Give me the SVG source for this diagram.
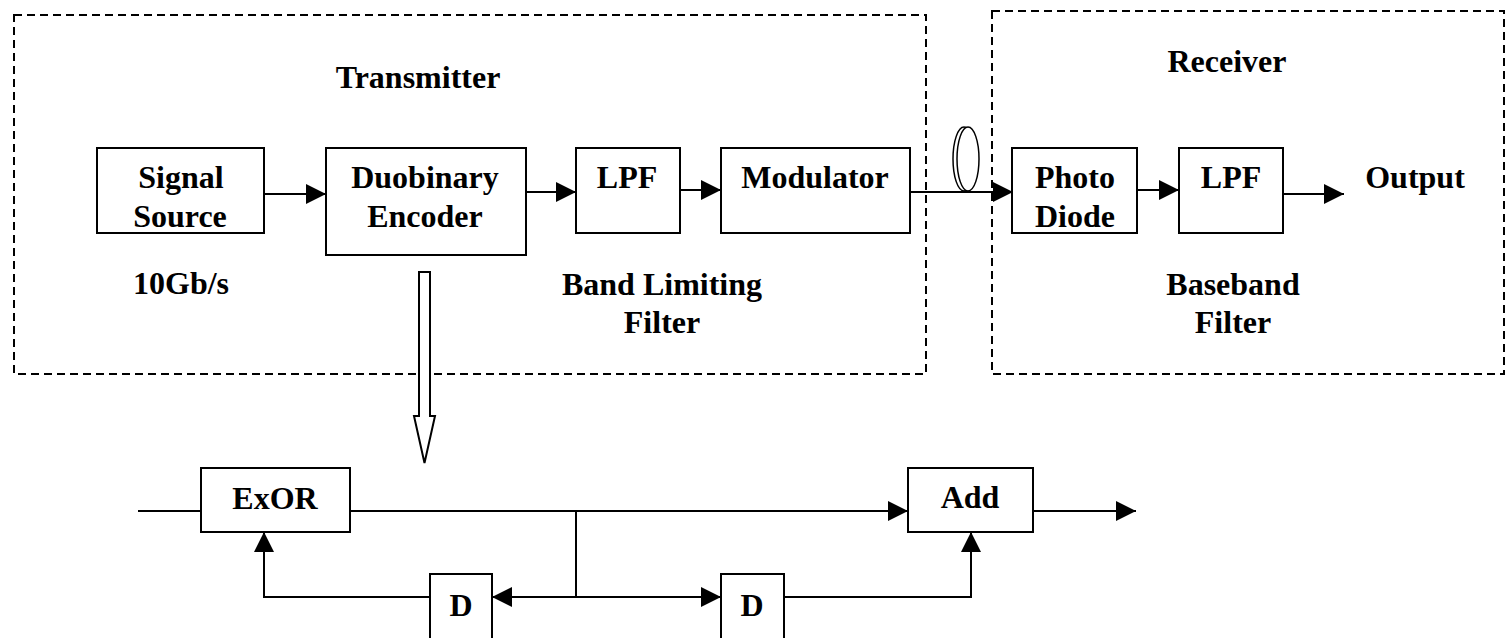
<svg xmlns="http://www.w3.org/2000/svg" width="1507" height="638" viewBox="0 0 1507 638">
<style>
.box{fill:#fff;stroke:#000;stroke-width:2}
.dash{fill:none;stroke:#000;stroke-width:2;stroke-dasharray:8 5}
.ln{fill:none;stroke:#000;stroke-width:2}
.t{font-family:"Liberation Serif","Times New Roman",serif;font-weight:bold;font-size:32px;fill:#000;text-anchor:middle}
</style>
<defs>
<marker id="ah" markerUnits="userSpaceOnUse" markerWidth="20" markerHeight="20" refX="20" refY="10" orient="auto" viewBox="0 0 20 20">
<path d="M0,0 L20,10 L0,20 Z" fill="#000"/>
</marker>
</defs>
<rect width="1507" height="638" fill="#fff"/>
<g id="transmitter-frame">
<rect class="dash" x="14" y="15" width="912" height="359"/>
<text class="t" x="418" y="88">Transmitter</text>
<text class="t" x="181" y="294">10Gb/s</text>
<text class="t" x="662" y="295">Band Limiting</text>
<text class="t" x="662" y="333">Filter</text>
</g>
<g id="receiver-frame">
<rect class="dash" x="992" y="11" width="512" height="363"/>
<text class="t" x="1227" y="72">Receiver</text>
<text class="t" x="1233" y="295">Baseband</text>
<text class="t" x="1233" y="333">Filter</text>
</g>
<g id="signal-source">
<rect class="box" x="97" y="148" width="167" height="85"/>
<text class="t" x="181" y="188">Signal</text>
<text class="t" x="180" y="227">Source</text>
</g>
<g id="duobinary-encoder">
<rect class="box" x="326" y="148" width="200" height="107"/>
<text class="t" x="425" y="188">Duobinary</text>
<text class="t" x="425" y="227">Encoder</text>
</g>
<g id="lpf-tx">
<rect class="box" x="576" y="148" width="104" height="85"/>
<text class="t" x="627" y="188">LPF</text>
</g>
<g id="modulator">
<rect class="box" x="721" y="148" width="189" height="85"/>
<text class="t" x="815" y="188">Modulator</text>
</g>
<g id="fiber">
<ellipse cx="964" cy="159" rx="11" ry="32" fill="none" stroke="#000" stroke-width="1.5"/>
<ellipse cx="968" cy="159" rx="11" ry="32" fill="#fff" stroke="#000" stroke-width="1.5"/>
</g>
<g id="photo-diode">
<rect class="box" x="1012" y="148" width="125" height="85"/>
<text class="t" x="1075" y="188">Photo</text>
<text class="t" x="1075" y="227">Diode</text>
</g>
<g id="lpf-rx">
<rect class="box" x="1179" y="148" width="104" height="85"/>
<text class="t" x="1231" y="188">LPF</text>
</g>
<g id="output">
<text class="t" x="1415" y="188">Output</text>
</g>
<g id="exor">
<rect class="box" x="201" y="468" width="149" height="64"/>
<text class="t" x="275" y="509">ExOR</text>
</g>
<g id="add">
<rect class="box" x="908" y="468" width="125" height="64"/>
<text class="t" x="970" y="508">Add</text>
</g>
<g id="delay1">
<rect class="box" x="430" y="574" width="62" height="80"/>
<text class="t" x="461" y="616">D</text>
</g>
<g id="delay2">
<rect class="box" x="721" y="574" width="63" height="80"/>
<text class="t" x="752" y="616">D</text>
</g>
<g id="connectors">
<line class="ln" x1="264" y1="194" x2="326" y2="194" marker-end="url(#ah)"/>
<line class="ln" x1="526" y1="192" x2="576" y2="192" marker-end="url(#ah)"/>
<line class="ln" x1="680" y1="190" x2="721" y2="190" marker-end="url(#ah)"/>
<line class="ln" x1="910" y1="192" x2="1013" y2="192" marker-end="url(#ah)"/>
<line class="ln" x1="1137" y1="190" x2="1179" y2="190" marker-end="url(#ah)"/>
<line class="ln" x1="1283" y1="194" x2="1344" y2="194" marker-end="url(#ah)"/>
<path d="M419,272 L430,272 L430,416 L435,416 L424.5,463 L414,416 L419,416 Z" fill="#fff" stroke="#000" stroke-width="2"/>
<line class="ln" x1="138" y1="511" x2="201" y2="511"/>
<line class="ln" x1="350" y1="511" x2="908" y2="511" marker-end="url(#ah)"/>
<line class="ln" x1="576" y1="511" x2="576" y2="597"/>
<line class="ln" x1="576" y1="597" x2="492" y2="597" marker-end="url(#ah)"/>
<line class="ln" x1="576" y1="597" x2="721" y2="597" marker-end="url(#ah)"/>
<polyline class="ln" points="430,597 264,597 264,532" marker-end="url(#ah)"/>
<polyline class="ln" points="784,597 971,597 971,532" marker-end="url(#ah)"/>
<line class="ln" x1="1033" y1="511" x2="1136" y2="511" marker-end="url(#ah)"/>
</g>
</svg>
